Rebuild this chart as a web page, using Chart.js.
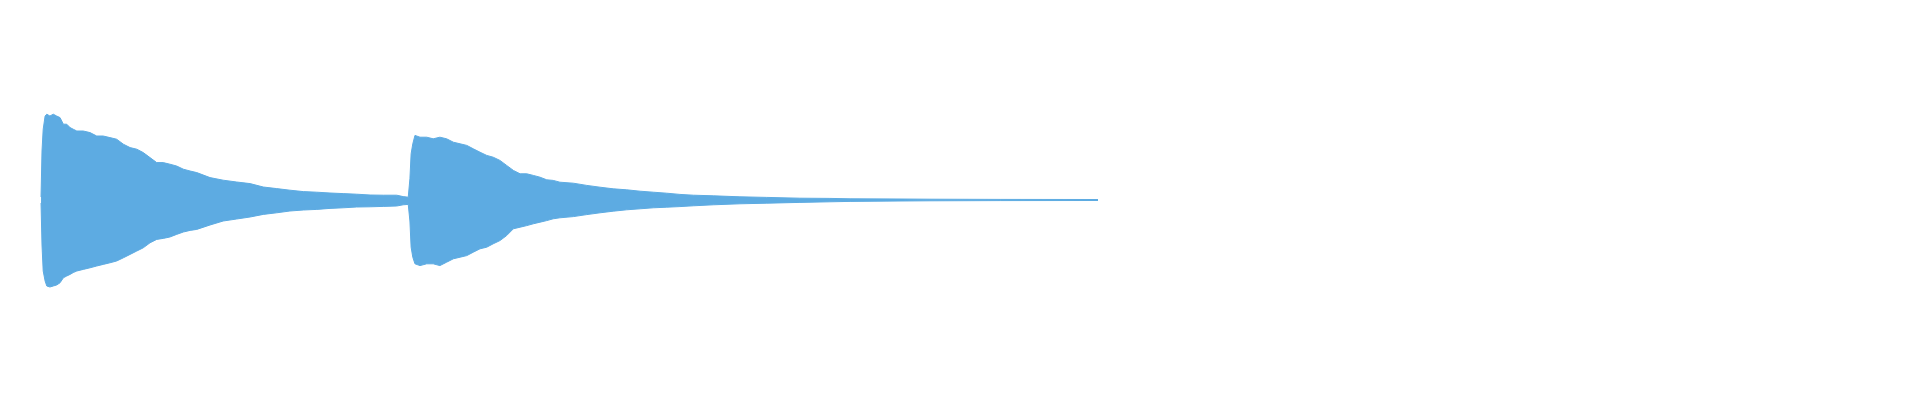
<!DOCTYPE html>
<html>
<head>
<meta charset="utf-8">
<script src="https://cdn.jsdelivr.net/npm/chart.js@4.4.0/dist/chart.umd.min.js"></script>
<style>
  html, body { margin: 0; padding: 0; background: #fff; }
  #wave { display: block; }
</style>
</head>
<body>
<canvas id="wave" width="1920" height="400"></canvas>
<script>
// time in seconds
var times = [
    0.171, 0.175, 0.180, 0.188, 0.195, 0.208, 0.222, 0.236, 0.250, 0.264,
    0.278, 0.292, 0.305, 0.320, 0.347, 0.375, 0.403, 0.430, 0.458, 0.486,
    0.514, 0.542, 0.570, 0.597, 0.625, 0.653, 0.680, 0.708, 0.736, 0.764,
    0.792, 0.820, 0.875, 0.930, 0.986, 1.042, 1.097, 1.153, 1.208, 1.264,
    1.320, 1.375, 1.430, 1.486, 1.542, 1.597, 1.653, 1.680, 1.701,
    1.708, 1.713, 1.720, 1.729, 1.750, 1.778, 1.805, 1.833, 1.861, 1.889,
    1.917, 1.945, 1.972, 2.000, 2.028, 2.055, 2.083, 2.111, 2.139, 2.167,
    2.195, 2.222, 2.250, 2.278, 2.305, 2.333, 2.389, 2.445, 2.500, 2.555,
    2.611, 2.667, 2.722, 2.778, 2.833, 2.889, 2.972, 3.083, 3.195, 3.333,
    3.458, 3.542, 3.750, 3.875, 4.167, 4.575
];

// positive peaks per block
var peakMax = [
    0.015, 0.245, 0.354, 0.420, 0.429, 0.420, 0.429, 0.420, 0.412, 0.379,
    0.379, 0.362, 0.354, 0.345, 0.345, 0.337, 0.320, 0.320, 0.312, 0.304,
    0.279, 0.262, 0.254, 0.237, 0.212, 0.187, 0.187, 0.179, 0.170, 0.154,
    0.145, 0.137, 0.112, 0.099, 0.090, 0.082, 0.065, 0.057, 0.049, 0.042,
    0.039, 0.035, 0.032, 0.029, 0.025, 0.024, 0.024, 0.017, 0.014,
    0.106, 0.231, 0.281, 0.323, 0.314, 0.314, 0.306, 0.314, 0.306, 0.289,
    0.281, 0.273, 0.256, 0.239, 0.223, 0.214, 0.198, 0.173, 0.148, 0.131,
    0.131, 0.123, 0.114, 0.101, 0.098, 0.089, 0.084, 0.073, 0.064, 0.056,
    0.051, 0.044, 0.039, 0.034, 0.028, 0.024, 0.021, 0.016, 0.013, 0.009,
    0.008, 0.006, 0.005, 0.004, 0.003, 0.0025
];

// negative peaks per block
var peakMin = [
    -0.015, -0.225, -0.355, -0.405, -0.430, -0.435, -0.430, -0.425, -0.414, -0.389,
    -0.380, -0.372, -0.363, -0.355, -0.347, -0.339, -0.330, -0.322, -0.314, -0.305,
    -0.289, -0.272, -0.255, -0.239, -0.214, -0.197, -0.192, -0.185, -0.172, -0.160,
    -0.152, -0.147, -0.125, -0.105, -0.095, -0.085, -0.072, -0.064, -0.055, -0.050,
    -0.047, -0.042, -0.039, -0.035, -0.034, -0.032, -0.030, -0.024, -0.022,
    -0.105, -0.236, -0.286, -0.319, -0.328, -0.319, -0.319, -0.328, -0.311, -0.294,
    -0.286, -0.278, -0.261, -0.244, -0.236, -0.219, -0.203, -0.178, -0.144, -0.136,
    -0.128, -0.119, -0.111, -0.103, -0.094, -0.089, -0.083, -0.073, -0.064, -0.056,
    -0.049, -0.044, -0.039, -0.036, -0.033, -0.029, -0.024, -0.019, -0.016, -0.012,
    -0.009, -0.007, -0.005, -0.004, -0.003, -0.0025
];

var waveColor = '#5dabe2';

function toPoints(values) {
    return times.map(function (t, i) {
        return { x: t, y: values[i] };
    });
}

var ctx = document.getElementById('wave').getContext('2d');
var waveChart = new Chart(ctx, {
    type: 'line',
    data: {
        datasets: [{
            label: 'max',
            data: toPoints(peakMax),
            borderColor: waveColor,
            backgroundColor: waveColor,
            borderWidth: 1,
            pointRadius: 0,
            tension: 0,
            fill: '+1' // fill down to the min line
        }, {
            label: 'min',
            data: toPoints(peakMin),
            borderColor: waveColor,
            backgroundColor: waveColor,
            borderWidth: 1,
            pointRadius: 0,
            tension: 0,
            fill: false
        }]
    },
    options: {
        responsive: false,
        animation: false,
        devicePixelRatio: 1,
        layout: { padding: 0 },
        plugins: {
            legend: { display: false },
            tooltip: { enabled: false }
        },
        scales: {
            x: { type: 'linear', min: 0, max: 8, display: false },
            y: { min: -1, max: 1, display: false }
        }
    }
});
</script>
</body>
</html>
